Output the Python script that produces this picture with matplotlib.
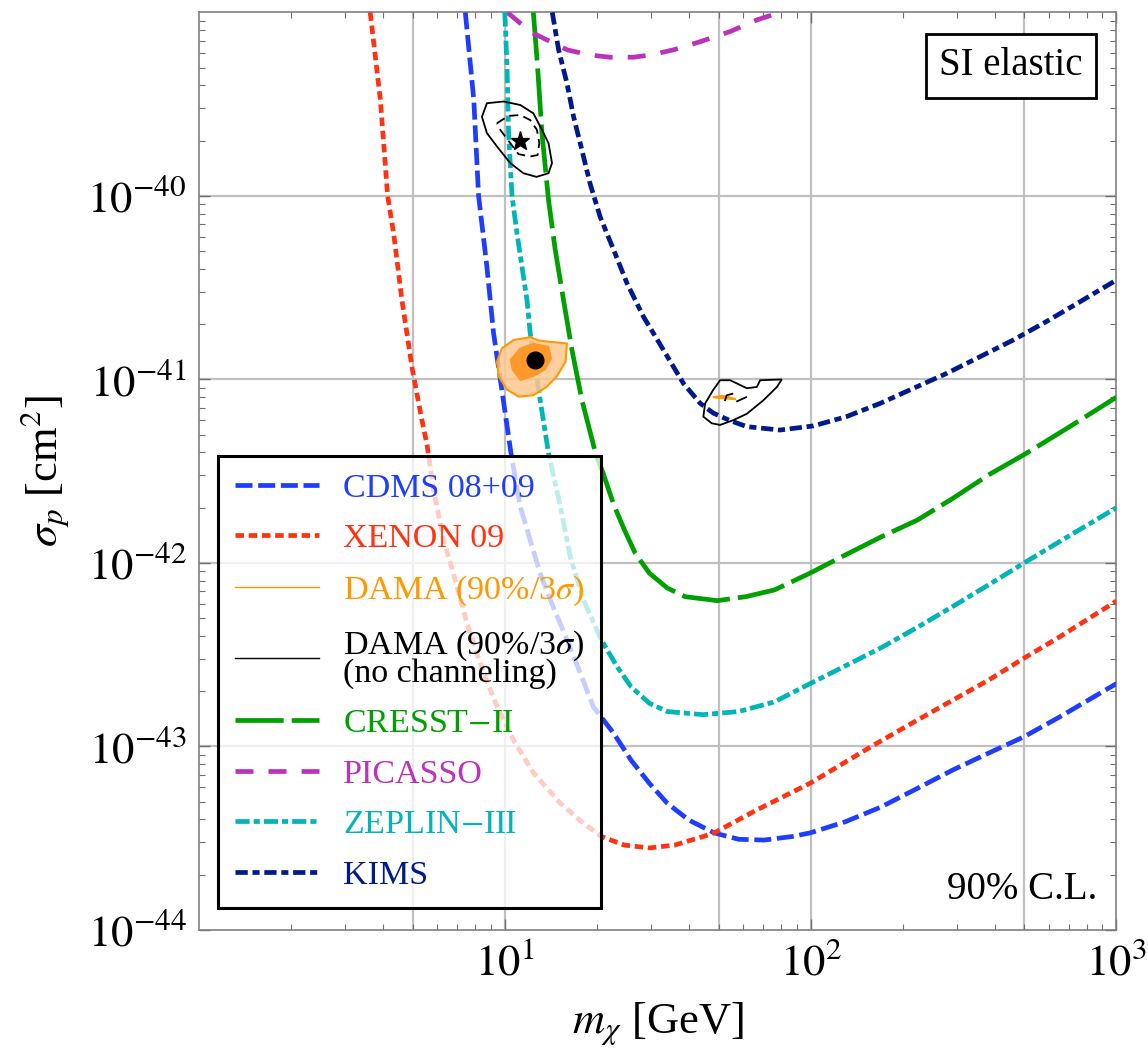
import numpy as np
import matplotlib.pyplot as plt
from matplotlib.lines import Line2D
from matplotlib.ticker import FixedLocator, LogLocator, NullFormatter

plt.rcParams['font.family'] = ['Liberation Serif', 'DejaVu Serif']
plt.rcParams['mathtext.fontset'] = 'stix'

# --- exclusion limits (mass in GeV, sigma_p in cm^2) ---
cdms_m = [7.43, 7.92, 8.21, 8.74, 9.19, 9.67, 10.48, 11.24, 12.11, 13.05, 14.4, 16.0,
          17.65, 19.5, 22.7, 25.9, 29.7, 34.0, 40.0, 48.4, 58.2, 70.5, 87, 99.6, 130,
          170, 223, 292, 382, 499, 653, 1000]
cdms_s = [1.0e-39, 3.33e-40, 1.0e-40, 4.12e-41, 1.79e-41, 1.0e-41, 3.96e-42, 2.02e-42,
          1.33e-42, 8.8e-43, 5.75e-43, 3.8e-43, 2.51e-43, 1.64e-43, 1.18e-43, 8.4e-44,
          6.3e-44, 4.9e-44, 3.97e-44, 3.38e-44, 3.12e-44, 3.09e-44, 3.23e-44, 3.38e-44,
          3.89e-44, 4.68e-44, 5.9e-44, 7.45e-44, 9.2e-44, 1.13e-43, 1.45e-43, 2.2e-43]

xenon_m = [3.63, 3.92, 4.14, 4.33, 4.61, 4.97, 5.33, 5.57, 5.85, 6.31, 6.79, 7.52,
           8.53, 9.45, 10.69, 12.4, 15.2, 18.1, 20.7, 24.6, 29.7, 35.9, 44.5, 48.4,
           66.5, 99.6, 158, 223, 292, 382, 499, 653, 1000]
xenon_s = [1.0e-39, 3.33e-40, 1.0e-40, 6.27e-41, 2.71e-41, 1.17e-41, 6.27e-42, 4.4e-42,
           2.5e-42, 1.33e-42, 8.8e-43, 4.69e-43, 2.51e-43, 1.64e-43, 1.08e-43, 7.2e-44,
           4.9e-44, 3.81e-44, 3.23e-44, 2.9e-44, 2.8e-44, 2.9e-44, 3.23e-44, 3.38e-44,
           4.5e-44, 6.3e-44, 1.0e-43, 1.39e-43, 1.79e-43, 2.3e-43, 3.03e-43, 3.96e-43,
           6.2e-43]

zeplin_m = [10.0, 10.17, 10.29, 10.56, 10.96, 11.38, 11.82, 12.11, 12.58, 13.05, 13.9,
            15.2, 16.37, 18.1, 20.7, 23.3, 25.9, 29.7, 34.0, 44.5, 58.2, 76.2, 99.6,
            130, 170, 223, 292, 382, 499, 653, 1000]
zeplin_s = [1.0e-39, 5.07e-40, 2.2e-40, 1.0e-40, 6.27e-41, 4.12e-41, 2.71e-41, 1.79e-41,
            1.17e-41, 7.73e-42, 3.96e-42, 2.03e-42, 1.08e-42, 6.28e-43, 3.8e-43, 2.72e-43,
            2.11e-43, 1.72e-43, 1.55e-43, 1.49e-43, 1.55e-43, 1.75e-43, 2.2e-43, 2.75e-43,
            3.45e-43, 4.45e-43, 5.8e-43, 7.6e-43, 1.0e-42, 1.31e-42, 2.0e-42]

cresst_m = [12.4, 12.8, 13.23, 13.9, 14.62, 15.56, 16.58, 17.87, 19.8, 20.97, 22.73,
            24.63, 26.7, 29.7, 34.0, 38.9, 49.5, 61.4, 76.2, 99.6, 123.6, 170.6, 223,
            292, 382, 500, 700, 1000]
cresst_s = [1.0e-39, 5.07e-40, 2.2e-40, 9.5e-41, 5.08e-41, 2.71e-41, 1.45e-41, 7.73e-42,
            3.97e-42, 3.08e-42, 2.07e-42, 1.51e-42, 1.13e-42, 8.8e-43, 7.3e-43, 6.55e-43,
            6.23e-43, 6.55e-43, 7.13e-43, 8.8e-43, 1.06e-42, 1.39e-42, 1.71e-42, 2.25e-42,
            3.02e-42, 3.9e-42, 5.5e-42, 8.0e-42]

kims_m = [14.3, 15.0, 15.97, 16.79, 17.87, 19.0, 20.5, 22.7, 25.1, 28.4, 33.0, 38.4,
          43.6, 48.1, 54.6, 61.9, 79.4, 102, 131, 169, 217, 279, 358, 460, 591, 760, 1000]
kims_s = [1.0e-39, 6.25e-40, 4.11e-40, 2.7e-40, 1.78e-40, 1.17e-40, 7.7e-41, 5.08e-41,
          3.34e-41, 2.2e-41, 1.45e-41, 9.5e-42, 7.4e-42, 6.55e-42, 5.96e-42, 5.53e-42,
          5.3e-42, 5.58e-42, 6.27e-42, 7.41e-42, 8.95e-42, 1.08e-41, 1.33e-41, 1.64e-41,
          2.07e-41, 2.65e-41, 3.48e-41]

picasso_m = [10.2, 11.24, 12.4, 14.1, 16.0, 19.0, 22.1, 26.4, 29.9, 35.6, 43.6, 54.6,
             66.7, 79.4]
picasso_s = [1.0e-39, 8.73e-40, 7.7e-40, 6.93e-40, 6.25e-40, 5.86e-40, 5.7e-40, 5.7e-40,
             5.86e-40, 6.25e-40, 6.93e-40, 7.87e-40, 9.1e-40, 1.0e-39]

# --- DAMA regions with channeling (orange) ---
dama3_m = [9.43, 9.79, 10.69, 12.11, 12.9, 13.7, 15.97, 15.8, 14.8, 13.7, 12.4, 11.1,
           10.17, 9.55]
dama3_s = [1.25e-41, 1.48e-41, 1.64e-41, 1.70e-41, 1.63e-41, 1.61e-41, 1.57e-41,
           1.25e-41, 1.04e-41, 9.1e-42, 8.2e-42, 8.06e-42, 8.8e-42, 1.04e-41]
dama90_m = [10.42, 11.24, 12.4, 13.9, 14.2, 13.56, 12.4, 11.24, 10.6]
dama90_s = [1.28e-41, 1.48e-41, 1.57e-41, 1.51e-41, 1.30e-41, 1.13e-41, 1.04e-41,
            9.9e-42, 1.13e-41]
dama_best = (12.6, 1.28e-41)
damahi_m = [47.9, 52.0, 57.0, 52.0]
damahi_s = [8.0e-42, 8.15e-42, 7.8e-42, 7.9e-42]

# --- DAMA regions without channeling (black) ---
nc_lo3_m = [8.42, 8.74, 9.91, 11.24, 12.4, 13.06, 13.9, 14.27, 13.9, 12.7, 11.5, 10.42,
            9.43, 8.74]
nc_lo3_s = [2.70e-40, 3.20e-40, 3.27e-40, 3.13e-40, 2.82e-40, 2.39e-40, 1.94e-40,
            1.51e-40, 1.33e-40, 1.27e-40, 1.33e-40, 1.51e-40, 1.86e-40, 2.20e-40]
nc_lo90_m = [9.43, 10.29, 11.24, 12.11, 12.74, 12.97, 12.8, 12.11, 11.09, 10.42, 9.67]
nc_lo90_s = [2.49e-40, 2.73e-40, 2.76e-40, 2.59e-40, 2.29e-40, 1.94e-40, 1.67e-40,
             1.64e-40, 1.69e-40, 1.94e-40, 2.29e-40]
nc_best = (11.2, 2.0e-40)
nc_hi3_m = [50.6, 54.6, 61.9, 66.7, 68.4, 80.5, 77.6, 70.1, 61.9, 55.9, 50.6, 47.5,
            44.6, 45.2, 48.1]
nc_hi3_s = [9.9e-42, 9.9e-42, 8.95e-42, 9.1e-42, 9.9e-42, 1.0e-41, 9.1e-42, 7.7e-42,
            6.5e-42, 6.0e-42, 5.65e-42, 5.77e-42, 6.27e-42, 7.4e-42, 8.8e-42]
nc_hi90a_m = [52.5, 53.2, 55.5]
nc_hi90a_s = [7.7e-42, 8.2e-42, 8.35e-42]
nc_hi90b_m = [57.5, 61.5]
nc_hi90b_s = [7.6e-42, 8.0e-42]

c_cdms = '#1f3dff'
c_xenon = '#ff3311'
c_dama = '#ff9900'
c_cresst = '#00a000'
c_picasso = '#bb33bb'
c_zeplin = '#00b5b8'
c_kims = '#001a8c'

fig = plt.figure(figsize=(11.48, 10.52), dpi=100)
ax = fig.add_axes([0.1733, 0.1160, 0.7992, 0.8722])
ax.set_xscale('log')
ax.set_yscale('log')

lw = 3.4
h_cdms, = ax.plot(cdms_m, cdms_s, color=c_cdms, lw=lw, dashes=(3.6, 1.2),
                  label='CDMS 08+09', zorder=3)
h_xenon, = ax.plot(xenon_m, xenon_s, color=c_xenon, lw=lw, dashes=(1.8, 1.0),
                   label='XENON 09', zorder=3)
h_cresst, = ax.plot(cresst_m, cresst_s, color=c_cresst, lw=lw, dashes=(10.2, 1.7),
                    label='CRESST$-$II', zorder=3)
h_picasso, = ax.plot(picasso_m, picasso_s, color=c_picasso, lw=lw, dashes=(3.8, 3.2),
                     label='PICASSO', zorder=3)
h_zeplin, = ax.plot(zeplin_m, zeplin_s, color=c_zeplin, lw=lw, dashes=(3.0, 0.85, 1.3, 0.85),
                    label='ZEPLIN$-$III', zorder=3)
h_kims, = ax.plot(kims_m, kims_s, color=c_kims, lw=lw, dashes=(2.6, 1.0, 1.5, 1.0),
                  label='KIMS', zorder=3)

# DAMA with channeling
ax.fill(dama3_m, dama3_s, facecolor=(1.0, 0.78, 0.56, 0.85), edgecolor=c_dama, lw=1.5, zorder=4)
ax.fill(dama90_m, dama90_s, facecolor='#ff9a2a', edgecolor='#ff9a2a', lw=1, zorder=4)
ax.fill(damahi_m, damahi_s, facecolor=c_dama, edgecolor=c_dama, lw=1.5, zorder=4)
ax.plot(*dama_best, 'o', color='black', ms=12, zorder=6)

# DAMA without channeling
ax.fill(nc_lo3_m, nc_lo3_s, facecolor='none', edgecolor='black', lw=1.3, zorder=4)
ax.fill(nc_lo90_m, nc_lo90_s, facecolor='none', edgecolor='black', lw=1.3,
        linestyle=(0, (5, 3)), zorder=4)
ax.plot(*nc_best, '*', color='black', ms=14, zorder=6)
ax.fill(nc_hi3_m, nc_hi3_s, facecolor='none', edgecolor='black', lw=1.3, zorder=4)
ax.plot(nc_hi90a_m, nc_hi90a_s, color='black', lw=1.3, zorder=5)
ax.plot(nc_hi90b_m, nc_hi90b_s, color='black', lw=1.3, zorder=5)

h_dama = Line2D([], [], color=c_dama, lw=1, label='DAMA (90%/3$\\sigma$)')
h_nc = Line2D([], [], color='black', lw=1,
              label='DAMA (90%/3$\\sigma$)\n(no channeling)')

ax.set_xlim(1.0, 1000)
ax.set_ylim(1e-44, 1e-39)

# grid
for gx in [5, 10, 50, 100, 500]:
    ax.axvline(gx, color='#c0c0c0', lw=1.6, zorder=1)
for gy in [1e-43, 1e-42, 1e-41, 1e-40]:
    ax.axhline(gy, color='#c0c0c0', lw=1.6, zorder=1)

ax.xaxis.set_major_locator(FixedLocator([10, 100, 1000]))
ax.set_xticklabels(['$10^{1}$', '$10^{2}$', '$10^{3}$'])
ax.xaxis.set_minor_locator(LogLocator(base=10, subs=np.arange(2, 10), numticks=20))
ax.xaxis.set_minor_formatter(NullFormatter())
ax.yaxis.set_major_locator(FixedLocator([1e-44, 1e-43, 1e-42, 1e-41, 1e-40]))
ax.set_yticklabels(['$10^{-44}$', '$10^{-43}$', '$10^{-42}$', '$10^{-41}$', '$10^{-40}$'])
ax.yaxis.set_minor_locator(LogLocator(base=10, subs=np.arange(2, 10), numticks=20))
ax.yaxis.set_minor_formatter(NullFormatter())
ax.tick_params(which='both', direction='in', top=True, right=True, color='#707070',
               labelsize=32, pad=9)
ax.tick_params(which='major', length=8, width=1)
ax.tick_params(which='minor', length=4, width=0.8)
for sp in ax.spines.values():
    sp.set_color('#808080')
    sp.set_linewidth(1.2)

ax.set_xlabel('$m_\\chi$ [GeV]', fontsize=32, labelpad=12)
ax.set_ylabel('$\\sigma_p$ [cm$^2$]', fontsize=32, labelpad=12)

ax.text(0.885, 0.942, 'SI elastic', transform=ax.transAxes, fontsize=28,
        ha='center', va='center', zorder=8,
        bbox=dict(boxstyle='square,pad=0.35', fc='white', ec='black', lw=2))
ax.text(0.979, 0.044, '90% C.L.', transform=ax.transAxes, fontsize=28,
        ha='right', va='center', zorder=8)

leg = ax.legend(handles=[h_cdms, h_xenon, h_dama, h_nc, h_cresst, h_picasso, h_zeplin, h_kims],
                loc='lower left', bbox_to_anchor=(0.0212, 0.024), borderaxespad=0,
                fontsize=24.5, labelcolor='linecolor', handlelength=2.45,
                handletextpad=0.7, labelspacing=0.58, borderpad=0.5,
                fancybox=False, framealpha=None)
leg.set_zorder(7)
frame = leg.get_frame()
frame.set_alpha(None)
frame.set_facecolor((1, 1, 1, 0.75))
frame.set_edgecolor('black')
frame.set_linewidth(2.2)
leg.get_texts()[3].set_linespacing(0.8)

fig.savefig('out.png', dpi=100)
